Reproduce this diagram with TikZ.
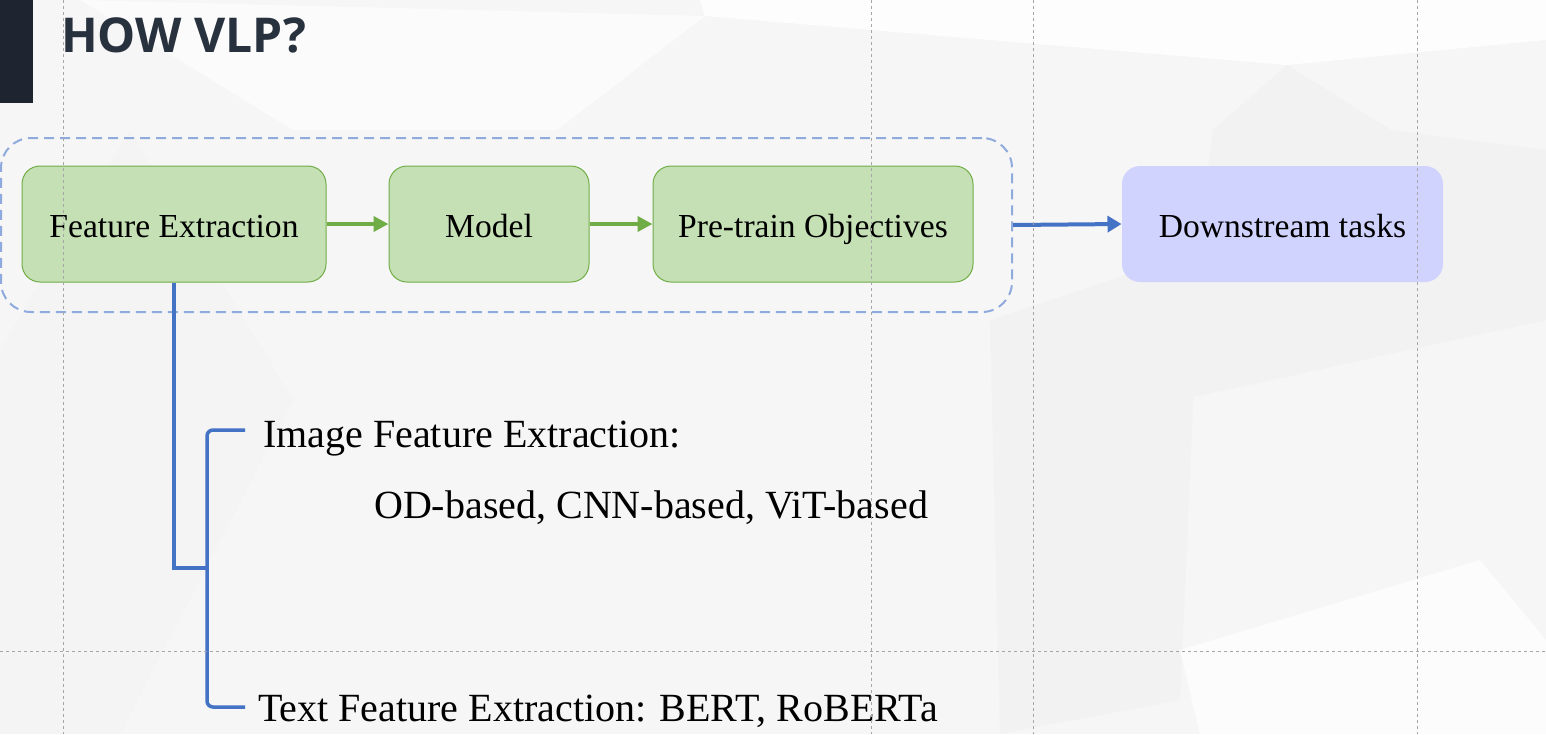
\documentclass[tikz,border=0pt]{standalone}
\usepackage{fontspec}
\setmainfont{Liberation Serif}
\newfontfamily\titlefont{Open Sans}
\usetikzlibrary{arrows.meta}
\usepackage{xcolor}
\definecolor{bgbase}{HTML}{F6F6F6}
\definecolor{barcol}{HTML}{1F2530}
\definecolor{titlecol}{HTML}{28313E}
\definecolor{boxgreen}{HTML}{C5E0B4}
\definecolor{edgegreen}{HTML}{70AD47}
\definecolor{boxblue}{HTML}{D0D3FD}
\definecolor{linkblue}{HTML}{4472C4}
\definecolor{groupblue}{HTML}{8FAADC}
\definecolor{guidegray}{HTML}{A6A6A6}

\begin{document}
\begin{tikzpicture}[x=1pt, y=-1pt, >=stealth]
\tikzset{stepbox/.style={draw=edgegreen, line width=1pt, fill=boxgreen, rounded corners=18pt, minimum height=116pt, text height=26pt, text depth=0pt, inner sep=0pt, align=center, font=\fontsize{33.6}{40}\selectfont}}
\tikzset{taskbox/.style={stepbox, draw=none, fill=boxblue}}
\tikzset{groupbox/.style={draw=groupblue, line width=2pt, dash pattern=on 10pt off 6pt, rounded corners=30pt, minimum width=1011pt, minimum height=174pt, inner sep=0pt}}
\tikzset{listtext/.style={anchor=base west, inner sep=0pt, font=\fontsize{40}{48}\selectfont}}
\tikzset{greenlink/.style={draw=edgegreen, line width=4pt, -{Triangle[length=15pt,width=15pt]}}}
\tikzset{bluelink/.style={draw=linkblue, line width=4pt, -{Triangle[length=14pt,width=16pt]}}}
\tikzset{bline/.style={draw=linkblue, line width=3.5pt}}
\tikzset{guide/.style={draw=guidegray, line width=0.8pt, dash pattern=on 3pt off 3pt}}
\useasboundingbox (0,0) rectangle (1546,734);
\fill[bgbase] (0,0) rectangle (1546,734);
\fill[white!60!bgbase] (80,0) -- (705,16) -- (557,130) -- (293,130) -- (168,53) -- cycle;
\fill[white!80!bgbase] (700,0) -- (705,16) -- (1287,65) -- (1546,40) -- (1546,0) -- cycle;
\fill[black!1.5!bgbase] (1287,65) -- (1391,130) -- (1546,150) -- (1546,320) -- (1180,400) -- (1213,130) -- cycle;
\fill[black!1.5!bgbase] (990,320) -- (1200,250) -- (1180,700) -- (1000,734) -- cycle;
\fill[white!70!bgbase] (1180,650) -- (1480,560) -- (1546,640) -- (1546,734) -- (1200,734) -- cycle;
\fill[black!1!bgbase] (0,350) -- (130,130) -- (293,400) -- (120,734) -- (0,734) -- cycle;
\fill[barcol] (0,0) rectangle (33,103);
\node[anchor=base west, inner sep=0pt, text=titlecol, font=\titlefont\bfseries\fontsize{48}{56}\selectfont] (title) at (61,52) {HOW VLP?};
\node[groupbox] (grp) at (506.5,225) {};
\node[stepbox, minimum width=304pt] (fe) at (174,224) {Feature Extraction};
\node[stepbox, minimum width=200pt] (model) at (489,224) {Model};
\node[stepbox, minimum width=320pt] (obj) at (813,224) {Pre-train Objectives};
\node[taskbox, minimum width=321pt] (ds) at (1282.5,224) {Downstream tasks};
\path[greenlink] (fe) -- (model);
\path[greenlink] (model) -- (obj);
\path[bluelink] (grp.east) -- (ds.west);
\node[listtext] (imgfe) at (263,447) {Image Feature Extraction:};
\node[listtext] (imgkinds) at (374,518) {OD-based, CNN-based, ViT-based};
\node[listtext] (txtfe) at (258,721) {Text Feature Extraction: BERT, RoBERTa};
\coordinate (itop) at (245,430);
\coordinate (bmid) at (207,568);
\coordinate (ibot) at (245,707);
\draw[bline, rounded corners=6pt] (itop) -| (bmid) |- (ibot);
\draw[bline] (fe.south) |- (bmid);
\foreach \gx in {63,871,1033,1417} \draw[guide] (\gx,0) -- (\gx,734);
\draw[guide] (0,651) -- (1546,651);
\end{tikzpicture}
\end{document}
